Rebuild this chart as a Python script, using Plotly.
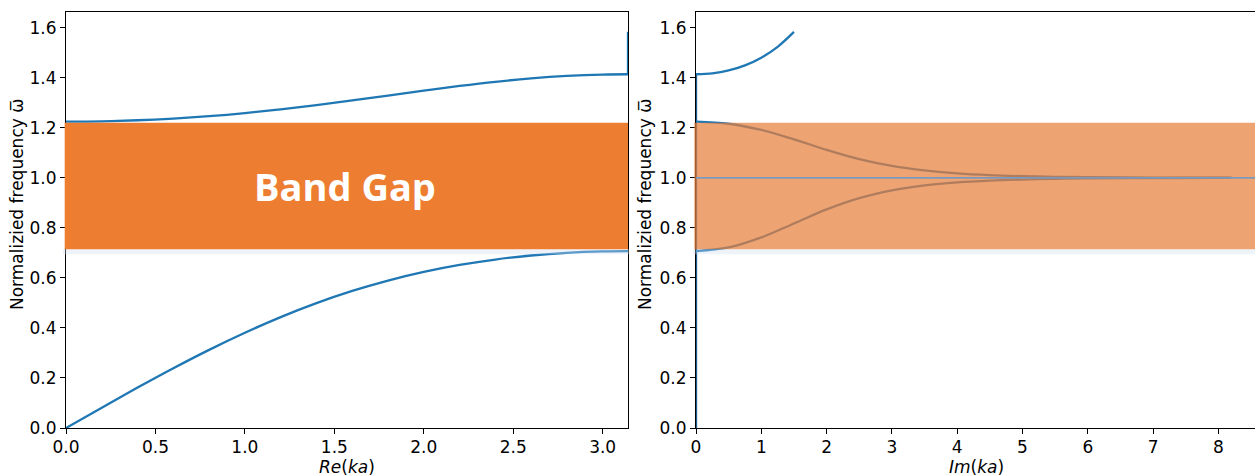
import plotly.graph_objects as go

W, H = 1255, 476

# Real part of ka: acoustic (lower) and optical (upper) branches
re_ka = [0.0, 0.2, 0.4, 0.6, 0.8, 1.0, 1.2, 1.4, 1.6, 1.8, 2.0, 2.2, 2.4, 2.6, 2.8, 3.0, 3.1416]
w_lower = [0.0, 0.0814, 0.1615, 0.2389, 0.3124, 0.3808, 0.4433, 0.4991, 0.5479, 0.5894,
           0.6240, 0.6518, 0.6735, 0.6895, 0.7002, 0.7059, 0.7071]
w_upper = [1.2247, 1.2261, 1.2302, 1.2370, 1.2466, 1.2589, 1.2737, 1.2907, 1.3094, 1.3290,
           1.3486, 1.3673, 1.3839, 1.3975, 1.4074, 1.4130, 1.4142]

# Imaginary part of ka: evanescent branches inside the gap
im_ka = [0.0, 0.5, 1.0, 1.5, 2.0, 2.5, 3.0, 3.5, 4.0, 4.5, 5.0, 5.5, 6.0, 7.0, 8.0, 8.2]
w_gap_top = [1.2247, 1.2163, 1.1915, 1.1540, 1.1118, 1.0748, 1.0476, 1.0295, 1.0181, 1.0110,
             1.0067, 1.0041, 1.0024, 1.0009, 1.0003, 1.0003]
w_gap_bot = [0.7071, 0.7216, 0.7618, 0.8176, 0.8740, 0.9191, 0.9500, 0.9696, 0.9816, 0.9889,
             0.9932, 0.9959, 0.9976, 0.9991, 0.9997, 0.9997]

# Evanescent branch above the optical band
im_ka_high = [0.0, 0.25, 0.5, 0.75, 1.0, 1.25, 1.5]
w_high = [1.4142, 1.4179, 1.4294, 1.4496, 1.4803, 1.5239, 1.5836]

# Branch values where the wave number is purely real / imaginary
re_edge = [3.1416, 3.1416]
w_edge = [1.4142, 1.5836]
im_zero = [0.0, 0.0]
w_zero = [0.0, 1.4142]

resonance = 1.0
gap_lo, gap_hi = 0.715, 1.22

x_ticks_re = [0.0, 0.5, 1.0, 1.5, 2.0, 2.5, 3.0]
x_ticks_im = [0, 1, 2, 3, 4, 5, 6, 7, 8]
y_ticks = [0.0, 0.2, 0.4, 0.6, 0.8, 1.0, 1.2, 1.4, 1.6]

BLUE = "#1f77b4"
ORANGE = "#ED7D31"
FONT = "DejaVu Sans"
TOP, BOTTOM = 12, 48
PLOT_H = H - TOP - BOTTOM


def px(x):
    return x / W


def py(y):
    # pixel row (from top of page) -> paper fraction
    return (H - BOTTOM - y) / PLOT_H


fig = go.Figure()
line = dict(color=BLUE, width=2.3)

fig.add_trace(go.Scatter(x=re_ka, y=w_lower, mode="lines", line_shape="spline", line=line, xaxis="x", yaxis="y"))
fig.add_trace(go.Scatter(x=re_ka, y=w_upper, mode="lines", line_shape="spline", line=line, xaxis="x", yaxis="y"))
fig.add_trace(go.Scatter(x=re_edge, y=w_edge, mode="lines", line=line, xaxis="x", yaxis="y"))

fig.add_trace(go.Scatter(x=im_zero, y=w_zero, mode="lines", line=dict(color="#1d5f93", width=2.3),
                         xaxis="x2", yaxis="y2"))
fig.add_trace(go.Scatter(x=im_ka, y=w_gap_top, mode="lines", line_shape="spline", line=line, xaxis="x2", yaxis="y2"))
fig.add_trace(go.Scatter(x=im_ka, y=w_gap_bot, mode="lines", line_shape="spline", line=line, xaxis="x2", yaxis="y2"))
fig.add_trace(go.Scatter(x=im_ka_high, y=w_high, mode="lines", line_shape="spline", line=line, xaxis="x2", yaxis="y2"))

axis_common = dict(
    showgrid=False, zeroline=False, showline=True, linecolor="black", linewidth=1.2,
    ticks="outside", ticklen=5, tickwidth=1.2, tickcolor="black", automargin=False,
    tickfont=dict(family=FONT, size=17, color="black"),
)

fig.update_layout(
    width=W, height=H,
    margin=dict(l=0, r=0, t=TOP, b=BOTTOM),
    paper_bgcolor="white", plot_bgcolor="white",
    showlegend=False,
    xaxis=dict(domain=[px(66), px(628)], range=[0, 3.1416], tickvals=x_ticks_re,
               ticktext=[f"{v:.1f}" for v in x_ticks_re], mirror=True, anchor="y",
               ticklabelstandoff=-2, **axis_common),
    yaxis=dict(domain=[0, 1], range=[0, 1.663], tickvals=y_ticks,
               ticktext=[f"{v:.1f}" for v in y_ticks], mirror=True, anchor="x", **axis_common),
    xaxis2=dict(domain=[px(696), 1.0], range=[0, 8.56], tickvals=x_ticks_im,
                ticktext=[str(v) for v in x_ticks_im], mirror=True, anchor="y2",
                ticklabelstandoff=-2, **axis_common),
    yaxis2=dict(domain=[0, 1], range=[0, 1.663], tickvals=y_ticks,
                ticktext=[f"{v:.1f}" for v in y_ticks], mirror=False, anchor="x2", **axis_common),
)

shadow = "rgba(205,220,240,0.35)"
shapes = [
    # soft shadow under the gap boxes
    dict(type="rect", xref="paper", yref="y", x0=px(63), x1=px(629), y0=gap_lo - 0.02, y1=gap_lo,
         fillcolor=shadow, line=dict(width=0), layer="above"),
    dict(type="rect", xref="paper", yref="y2", x0=px(693), x1=1.0, y0=gap_lo - 0.02, y1=gap_lo,
         fillcolor=shadow, line=dict(width=0), layer="above"),
    # band gap boxes
    dict(type="rect", xref="paper", yref="y", x0=px(64.7), x1=px(628), y0=gap_lo, y1=gap_hi,
         fillcolor=ORANGE, line=dict(width=0), layer="above"),
    dict(type="rect", xref="paper", yref="y2", x0=px(694.3), x1=1.0, y0=gap_lo, y1=gap_hi,
         fillcolor="rgba(231,128,60,0.72)", line=dict(width=0), layer="above"),
    # local resonance frequency
    dict(type="line", xref="x2", yref="y2", x0=0, x1=8.56, y0=resonance, y1=resonance,
         line=dict(color="#7b98bd", width=1.6), layer="above"),
]
fig.update_layout(shapes=shapes)

title_font = dict(family=FONT, size=17, color="black")
annotations = [
    dict(text="<b>Band Gap</b>", xref="paper", yref="y", x=px(345), y=(gap_lo + gap_hi) / 2,
         showarrow=False, font=dict(family="Open Sans", size=38, color="white"),
         xanchor="center", yanchor="middle"),
    dict(text="Normalizied frequency ω̅", xref="paper", yref="paper", x=px(17), y=py(205),
         textangle=-90, showarrow=False, font=title_font, xanchor="center", yanchor="middle"),
    dict(text="Normalizied frequency ω̅", xref="paper", yref="paper", x=px(645), y=py(205),
         textangle=-90, showarrow=False, font=title_font, xanchor="center", yanchor="middle"),
    dict(text="<i>Re</i>(<i>ka</i>)", xref="paper", yref="paper", x=px(347), y=py(467),
         showarrow=False, font=title_font, xanchor="center", yanchor="middle"),
    dict(text="<i>Im</i>(<i>ka</i>)", xref="paper", yref="paper", x=px(976), y=py(467),
         showarrow=False, font=title_font, xanchor="center", yanchor="middle"),
]
fig.update_layout(annotations=annotations)

fig.write_html("out.html")
